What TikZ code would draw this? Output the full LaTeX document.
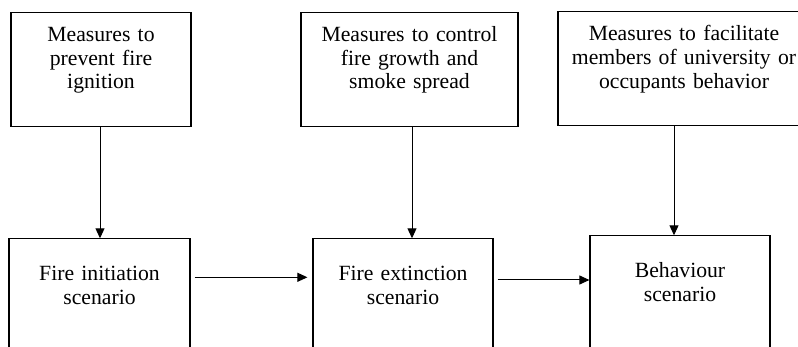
\documentclass[tikz,border=0pt]{standalone}
\usepackage{fontspec}
\setmainfont{Liberation Serif}
\usetikzlibrary{arrows.meta}
\newcommand \boxfont {\fontsize{21.7}{23.7}\selectfont}
\tikzset{
	measurebox/.style={
		draw,
		line width=1.2pt,
		anchor=north,
		align=center,
		text width=#1,
		inner xsep=0pt,
		inner ysep=15pt,
		text height=14pt,
		text depth=70pt,
		font=\boxfont
	},
	scenariobox/.style={
		measurebox=#1,
		inner ysep=28pt
	},
	flow/.style={
		line width=1pt,
		-{Triangle[length=10pt,width=9pt]}
	}
}

\begin{document}
\begin{tikzpicture} [x=1pt, y=-1pt]
	\useasboundingbox (0,0) rectangle (798,347);
	\clip (0,0) rectangle (798,347);

	\node (prevent) [measurebox=180pt] at (101,12) {Measures to\\prevent fire\\ignition};
	\node (control) [measurebox=217pt] at (409.5,12) {Measures to control\\fire growth and\\smoke spread};
	\node (facilitate) [measurebox=252pt] at (684,11.3) {Measures to facilitate\\members of university or\\occupants behavior};

	\node (initiation) [scenariobox=181pt] at (99.5,238.3) {Fire initiation\\scenario};
	\node (extinction) [scenariobox=180pt] at (403,238.3) {Fire extinction\\scenario};
	\node (behaviour) [scenariobox=180pt] at (680,235.3) {Behaviour\\scenario};

	\draw [flow] ([xshift=-1pt]prevent.south) -- ([xshift=-1pt]prevent.south |- initiation.north);
	\draw [flow] ([xshift=2.5pt]control.south) -- ([xshift=2.5pt]control.south |- extinction.north);
	\draw [flow] ([xshift=-10pt]facilitate.south) -- ([xshift=-10pt]facilitate.south |- behaviour.north);

	\draw [flow, shorten <=4pt, shorten >=5pt] ([yshift=-39pt]initiation.north east) -- ([yshift=-39pt]initiation.north east -| extinction.west);
	\draw [flow, shorten <=4pt] ([yshift=-41.7pt]extinction.north east) -- ([yshift=-41.7pt]extinction.north east -| behaviour.west);
\end{tikzpicture}
\end{document}
